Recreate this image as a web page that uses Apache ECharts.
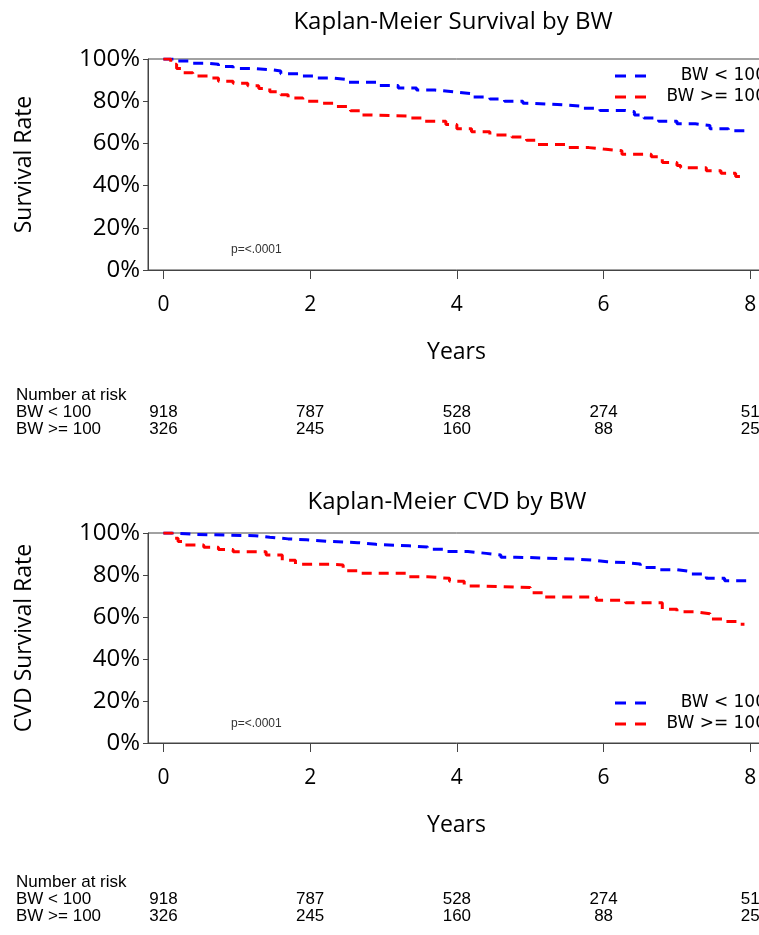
<!DOCTYPE html>
<html>
<head>
<meta charset="utf-8">
<script src="https://cdn.jsdelivr.net/npm/echarts@6/dist/echarts.min.js"></script>
<style>
    html, body { margin: 0; padding: 0; overflow: hidden; background: #fff; }
    #main { width: 800px; height: 935px; }
</style>
</head>
<body>
<div id="main"></div>
<script>
const groupNames = ['BW < 100', 'BW >= 100']
const xTicks = [0, 2, 4, 6, 8]

// overall survival, BW < 100
const survLowYears = [0, 0.15, 0.4, 0.6, 0.75, 0.95, 1.2, 1.45, 1.6, 1.85, 2.05, 2.3, 2.5, 2.95, 3.2, 3.45, 3.7, 3.95,
    4.2, 4.45, 4.65, 4.9, 5.05, 5.5, 5.7, 5.95, 6.3, 6.42, 6.55, 6.75, 7.0, 7.25, 7.45, 7.7, 7.95]
const survLowRate = [100, 99, 98, 97.5, 96.5, 95.5, 95, 94.3, 93, 92, 91, 90.3, 89, 87.5, 86.3, 85.3, 84.5, 83.6,
    82, 81, 80, 79, 78.2, 77.7, 76.6, 75.6, 75, 73.5, 72, 70.5, 69.3, 68.5, 67, 66, 66]

// overall survival, BW >= 100
const survHighYears = [0, 0.1, 0.18, 0.25, 0.4, 0.65, 0.75, 0.95, 1.15, 1.3, 1.45, 1.6, 1.7, 1.9, 2.15, 2.35, 2.55, 2.7, 2.8,
    3.35, 3.55, 3.85, 4.0, 4.2, 4.45, 4.75, 4.95, 5.1, 5.5, 5.8, 6.0, 6.25, 6.65, 6.8, 7.0, 7.05, 7.4, 7.6, 7.8, 7.92]
const survHighRate = [100, 97.5, 95.5, 93.5, 92, 91, 89.5, 88.5, 87.3, 86, 84.5, 83, 81.5, 80, 79, 77.5, 75.5, 73.5, 73,
    72, 70.5, 69, 67, 65.5, 64, 63, 61.5, 59.5, 58, 57.3, 56.5, 54.8, 53.7, 51, 49.5, 48.5, 47, 45.8, 44.3, 44.3]

// CVD survival, BW < 100
const cvdLowYears = [0, 0.12, 0.45, 1.25, 1.45, 1.7, 1.95, 2.25, 2.65, 2.9, 3.35, 3.6, 3.85, 4.15, 4.4, 4.6, 4.8,
    5.6, 5.85, 6.05, 6.3, 6.5, 6.75, 7.0, 7.2, 7.4, 7.65, 7.95]
const cvdLowRate = [100, 99.3, 98.7, 98, 97.2, 96.8, 96, 95.4, 94.6, 93.9, 93.3, 92.3, 91.2, 90.3, 89.5, 88.5, 87.6,
    87.1, 86.3, 85.9, 85.2, 83.6, 82.5, 81.6, 80.5, 78.5, 77.3, 77.3]

// CVD survival, BW >= 100
const cvdHighYears = [0, 0.12, 0.2, 0.3, 0.55, 0.75, 0.95, 1.4, 1.62, 1.8, 2.3, 2.45, 2.65, 3.35, 3.6, 3.9, 4.1, 4.3,
    5.0, 5.2, 5.9, 6.3, 6.8, 7.0, 7.25, 7.45, 7.65, 7.85, 7.92]
const cvdHighRate = [100, 97.5, 96, 94.3, 93.2, 92.2, 91.1, 89.5, 87, 85.1, 84.8, 82, 80.8, 79.2, 78.4, 77, 74.8, 74,
    71.6, 69.5, 68, 66.8, 63.7, 62.5, 61.6, 59, 57.8, 56.5, 56.5]

// number at risk
const riskYears = [0, 2, 4, 6, 8]
const riskLow = [918, 787, 528, 274, 51]
const riskHigh = [326, 245, 160, 88, 25]

const pValue = 'p=<.0001'

const axisFont = 'Open Sans'
const tableFont = 'Liberation Sans'
const axisColor = '#444'

const chart = echarts.init(document.querySelector('#main'))

function toPairs(xs, ys) {
    return xs.map((x, i) => [x, ys[i]])
}

function makeXAxis(gridIndex) {
    return {
        gridIndex: gridIndex,
        type: 'value',
        min: -0.21,
        max: 8.2,
        name: 'Years',
        nameLocation: 'middle',
        nameGap: 71,
        nameTextStyle: {fontFamily: axisFont, fontSize: 23, color: '#000'},
        axisLine: {show: true, onZero: false, lineStyle: {color: axisColor, width: 1}},
        axisTick: {show: true, customValues: xTicks, length: 9, lineStyle: {color: axisColor}},
        axisLabel: {customValues: xTicks, margin: 25, fontFamily: axisFont, fontSize: 21, color: '#000'},
        splitLine: {show: false},
    }
}

function makeYAxis(gridIndex, name) {
    return {
        gridIndex: gridIndex,
        type: 'value',
        min: 0,
        max: 100,
        interval: 20,
        name: name,
        nameLocation: 'middle',
        nameGap: 112,
        nameTextStyle: {fontFamily: axisFont, fontSize: 23, color: '#000'},
        axisLine: {show: true, onZero: false, lineStyle: {color: axisColor, width: 1}},
        axisTick: {show: true, length: 5, lineStyle: {color: axisColor}},
        axisLabel: {formatter: '{value}%', margin: 8, fontFamily: axisFont, fontSize: 24, color: '#000'},
        splitLine: {show: false},
    }
}

function makeSeries(name, index, years, rates, color) {
    return {
        name: name,
        type: 'line',
        step: 'end',
        xAxisIndex: index,
        yAxisIndex: index,
        symbol: 'none',
        data: toPairs(years, rates),
        lineStyle: {color: color, width: 3, type: [10, 7]},
        itemStyle: {color: color},
        silent: true,
        animation: false,
    }
}

const option = {
    animation: false,
    title: [
        {
            text: 'Kaplan-Meier Survival by BW',
            left: 448,
            top: 5,
            textAlign: 'center',
            textStyle: {fontFamily: axisFont, fontSize: 24, fontWeight: 'normal', color: '#000'},
        },
        {
            text: 'Kaplan-Meier CVD by BW',
            left: 442,
            top: 485,
            textAlign: 'center',
            textStyle: {fontFamily: axisFont, fontSize: 24, fontWeight: 'normal', color: '#000'},
        },
    ],
    grid: [
        {left: 148, top: 59, width: 617, height: 211, show: true, borderColor: axisColor, borderWidth: 1},
        {left: 148, top: 533, width: 617, height: 210, show: true, borderColor: axisColor, borderWidth: 1},
    ],
    xAxis: [makeXAxis(0), makeXAxis(1)],
    yAxis: [makeYAxis(0, 'Survival Rate'), makeYAxis(1, 'CVD Survival Rate')],
    series: [
        makeSeries(groupNames[0], 0, survLowYears, survLowRate, '#0000ff'),
        makeSeries(groupNames[1], 0, survHighYears, survHighRate, '#ff0000'),
        makeSeries(groupNames[0], 1, cvdLowYears, cvdLowRate, '#0000ff'),
        makeSeries(groupNames[1], 1, cvdHighYears, cvdHighRate, '#ff0000'),
    ],
}

chart.setOption(option)

// legends drawn as graphic rows so each panel has its own
function legendGraphics(centerY) {
    const colors = ['#0000ff', '#ff0000']
    const items = []
    groupNames.forEach((name, i) => {
        const y = centerY + i * 21
        items.push({
            type: 'line',
            shape: {x1: 615, y1: y, x2: 646, y2: y},
            style: {stroke: colors[i], lineWidth: 3, lineDash: [11, 9]},
            silent: true,
        })
        items.push({
            type: 'text',
            x: 766,
            y: y,
            style: {text: name, fontFamily: 'DejaVu Sans', fontSize: 17, fill: '#000', align: 'right', verticalAlign: 'middle'},
            silent: true,
        })
    })
    return items
}

function riskTable(gridIndex, topY) {
    const items = []
    const rowStyle = {fontFamily: tableFont, fontSize: 17, fill: '#000', verticalAlign: 'middle'}
    items.push({type: 'text', x: 16, y: topY, style: Object.assign({text: 'Number at risk'}, rowStyle)})
    items.push({type: 'text', x: 16, y: topY + 17, style: Object.assign({text: groupNames[0]}, rowStyle)})
    items.push({type: 'text', x: 16, y: topY + 34, style: Object.assign({text: groupNames[1]}, rowStyle)})
    riskYears.forEach((year, i) => {
        const x = chart.convertToPixel({xAxisIndex: gridIndex}, year)
        items.push({type: 'text', x: x, y: topY + 17, style: Object.assign({text: String(riskLow[i]), align: 'center'}, rowStyle)})
        items.push({type: 'text', x: x, y: topY + 34, style: Object.assign({text: String(riskHigh[i]), align: 'center'}, rowStyle)})
    })
    return items
}

function pText(y) {
    return {
        type: 'text',
        x: 231,
        y: y,
        style: {text: pValue, fontFamily: 'Liberation Sans', fontSize: 12, fill: '#333', verticalAlign: 'middle'},
        silent: true,
    }
}

chart.setOption({
    graphic: [].concat(
        legendGraphics(76),
        legendGraphics(703),
        riskTable(0, 395),
        riskTable(1, 882),
        [pText(250), pText(724)]
    ),
})
</script>
</body>
</html>
